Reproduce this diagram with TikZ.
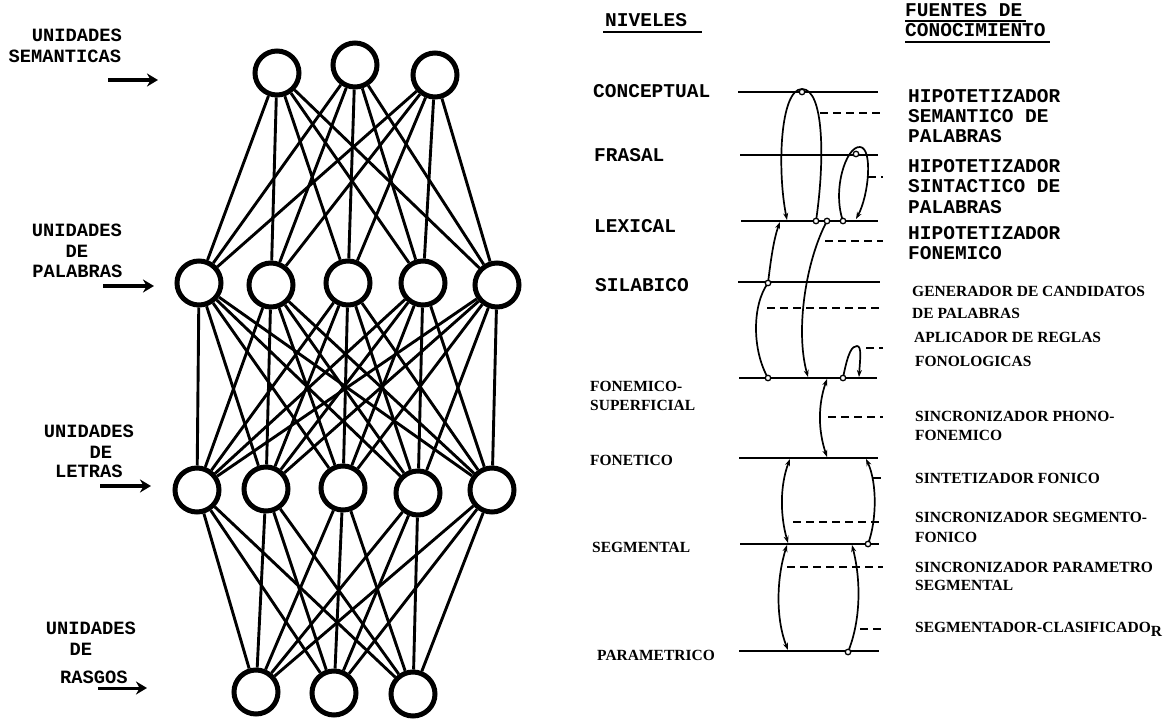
\documentclass[tikz,border=0pt]{standalone}
\usepackage{fontspec}
\setmainfont{Liberation Serif}
\newfontfamily\cour{Liberation Mono}
\usetikzlibrary{arrows.meta}
\begin{document}
\begin{tikzpicture}[x=1pt,y=-1pt,
  unit/.style={circle,draw,line width=5pt,minimum size=44pt,inner sep=0pt,fill=white},
  link/.style={line width=2.9pt},
  inarrow/.style={line width=4pt,-{Stealth[length=11pt,width=13pt]}},
  lab/.style={font=\cour\bfseries\fontsize{18.75}{20}\selectfont,anchor=base,inner sep=0pt},
  tw/.style={font=\cour\bfseries\fontsize{19.5}{21}\selectfont,anchor=base west,inner sep=0pt},
  sf/.style={font=\bfseries\fontsize{15.5}{17}\selectfont,anchor=base west,inner sep=0pt},
  level/.style={line width=2.2pt},
  uline/.style={line width=2pt},
  src/.style={line width=1.6pt,dash pattern=on 8pt off 5pt},
  flow/.style={line width=1.7pt},
  tip/.style={-{Stealth[length=7pt,width=5pt]}},
  tips/.style={{Stealth[length=7pt,width=5pt]}-{Stealth[length=7pt,width=5pt]}},
  dot/.style={circle,draw,fill=white,line width=1.3pt,minimum size=5.5pt,inner sep=0pt}
]
\useasboundingbox (0,0) rectangle (1171,719);

% ---------------- network ----------------
\node[unit] (s1) at (277,73) {};
\node[unit] (s2) at (355,65) {};
\node[unit] (s3) at (435,75) {};
\node[unit] (w1) at (199,283) {};
\node[unit] (w2) at (271,285) {};
\node[unit] (w3) at (348,283) {};
\node[unit] (w4) at (423,283) {};
\node[unit] (w5) at (497,285) {};
\node[unit] (l1) at (197,490) {};
\node[unit] (l2) at (266,489) {};
\node[unit] (l3) at (343,488) {};
\node[unit] (l4) at (418,493) {};
\node[unit] (l5) at (492,490) {};
\node[unit] (f1) at (256,692) {};
\node[unit] (f2) at (334,693) {};
\node[unit] (f3) at (413,694) {};

\foreach \a in {1,2,3}{\foreach \b in {1,...,5}{\draw[link] (s\a) -- (w\b);}}
\foreach \a in {1,...,5}{\foreach \b in {1,...,5}{\draw[link] (w\a) -- (l\b);}}
\foreach \a in {1,...,5}{\foreach \b in {1,2,3}{\draw[link] (l\a) -- (f\b);}}

% left labels
\node[lab] (t1a) at (77,42) {UNIDADES};
\node[lab] (t1b) at (65,63) {SEMANTICAS};
\node[lab] (t2a) at (77,237) {UNIDADES};
\node[lab] (t2b) at (77,258) {DE};
\node[lab] (t2c) at (77.5,278) {PALABRAS};
\node[lab] (t3a) at (89,438) {UNIDADES};
\node[lab] (t3b) at (101,458) {DE};
\node[lab] (t3c) at (89,478) {LETRAS};
\node[lab] (t4a) at (91,634) {UNIDADES};
\node[lab] (t4b) at (81,655) {DE};
\node[lab] (t4c) at (94,683) {RASGOS};

\coordinate (a1s) at (108,80);  \coordinate (a1e) at (158,80);
\coordinate (a2s) at (103,286); \coordinate (a2e) at (154,286);
\coordinate (a3s) at (100,486); \coordinate (a3e) at (151,486);
\coordinate (a4s) at (98,688);  \coordinate (a4e) at (147,688);
\draw[inarrow] (a1s) -- (a1e);
\draw[inarrow] (a2s) -- (a2e);
\draw[inarrow] (a3s) -- (a3e);
\draw[inarrow,line width=3pt] (a4s) -- (a4e);

% ---------------- headers ----------------
\node[tw] (hn) at (605,27) {NIVELES};
\draw[uline] (603,32) -- (702,32);
\node[tw] (hf1) at (905,17) {FUENTES DE};
\draw[uline] (905,21) -- (1026,21);
\node[tw] (hf2) at (905,37) {CONOCIMIENTO};
\draw[uline] (905,42) -- (1050,42);

% ---------------- levels ----------------
\node[tw] (nC) at (593,98) {CONCEPTUAL};
\node[tw] (nF) at (594,162) {FRASAL};
\node[tw] (nL) at (594,233) {LEXICAL};
\node[tw] (nS) at (595,292) {SILABICO};
\node[sf] (nFo1) at (590,392) {FONEMICO-};
\node[sf] (nFo2) at (590,410) {SUPERFICIAL};
\node[sf] (nFe) at (590,465) {FONETICO};
\node[sf] (nSe) at (592,552) {SEGMENTAL};
\node[sf] (nP) at (597,660) {PARAMETRICO};

\draw[level] (738,92) -- (878,92);
\draw[level] (740,155) -- (878,155);
\draw[level] (741,221) -- (878,221);
\draw[level] (738,282) -- (880,282);
\draw[level] (739,378) -- (877,378);
\draw[level] (739,458) -- (878,458);
\draw[level] (740,544) -- (879,544);
\draw[level] (739,651) -- (879,651);

% knowledge source labels
\node[tw] (k1a) at (908,103) {HIPOTETIZADOR};
\node[tw] (k1b) at (908,123) {SEMANTICO DE};
\node[tw] (k1c) at (908,143) {PALABRAS};
\node[tw] (k2a) at (908,173) {HIPOTETIZADOR};
\node[tw] (k2b) at (908,193) {SINTACTICO DE};
\node[tw] (k2c) at (908,214) {PALABRAS};
\node[tw] (k3a) at (908,240) {HIPOTETIZADOR};
\node[tw] (k3b) at (908,260) {FONEMICO};
\node[sf] (k4a) at (912,297) {GENERADOR DE CANDIDATOS};
\node[sf] (k4b) at (912,319) {DE PALABRAS};
\node[sf] (k5a) at (914,343) {APLICADOR DE REGLAS};
\node[sf] (k5b) at (915,367) {FONOLOGICAS};
\node[sf] (k6a) at (915,422) {SINCRONIZADOR PHONO-};
\node[sf] (k6b) at (915,440) {FONEMICO};
\node[sf] (k7) at (915,483) {SINTETIZADOR FONICO};
\node[sf] (k8a) at (915,522) {SINCRONIZADOR SEGMENTO-};
\node[sf] (k8b) at (915,542) {FONICO};
\node[sf] (k9a) at (915,572) {SINCRONIZADOR PARAMETRO};
\node[sf] (k9b) at (915,590) {SEGMENTAL};
\node[sf] (k10) at (915,632) {SEGMENTADOR-CLASIFICADO\raisebox{-4pt}{R}};

% dashed source markers
\draw[src] (820,113) -- (883,113);
\draw[src] (868,177) -- (883,177);
\draw[src] (825,241) -- (883,241);
\draw[src] (767,308) -- (880,308);
\draw[src] (866,348) -- (883,348);
\draw[src] (828,417) -- (883,417);
\draw[src] (873,478) -- (883,478);
\draw[src] (793,522) -- (883,522);
\draw[src] (787,567) -- (883,567);
\draw[src] (860,629) -- (883,629);

% flows
\coordinate (A0) at (816,221); \coordinate (A1) at (787,220);
\draw[flow,tip] (A0) .. controls (825,160) and (824,89) .. (802,89)
                     .. controls (780,89) and (777,170) .. (A1);
\coordinate (B0) at (843,221); \coordinate (B1) at (856,219);
\draw[flow,tip] (B0) .. controls (832,190) and (846,146) .. (860,147)
                     .. controls (873,148) and (869,195) .. (B1);
\coordinate (C0) at (827,221); \coordinate (C1) at (808,377);
\draw[flow,tip] (C0) .. controls (806,260) and (795,330) .. (C1);
\coordinate (D0) at (768,378); \coordinate (D1) at (768,283); \coordinate (D2) at (780,222);
\draw[flow] (D0) .. controls (752,350) and (752,305) .. (D1);
\draw[flow,tip] (D1) .. controls (771,258) and (774,238) .. (D2);
\coordinate (E0) at (843,378); \coordinate (E1) at (859,377);
\draw[flow,tip] (E0) .. controls (848,352) and (852,346) .. (857,346)
                     .. controls (862,346) and (860,360) .. (E1);
\coordinate (F0) at (827,379); \coordinate (F1) at (827,457);
\draw[flow,tips] (F0) .. controls (818,405) and (818,430) .. (F1);
\coordinate (G0) at (790,459); \coordinate (G1) at (788,543);
\draw[flow,tips] (G0) .. controls (780,485) and (780,515) .. (G1);
\coordinate (H0) at (868,544); \coordinate (H1) at (866,459);
\draw[flow,tip] (H0) .. controls (877,520) and (877,482) .. (H1);
\coordinate (I0) at (787,545); \coordinate (I1) at (788,650);
\draw[flow,tips] (I0) .. controls (776,580) and (776,620) .. (I1);
\coordinate (J0) at (848,652); \coordinate (J1) at (852,545);
\draw[flow,tip] (J0) .. controls (861,620) and (861,580) .. (J1);

% small circles
\node[dot] (o1) at (802,92) {};
\node[dot] (o2) at (A0) {};
\node[dot] (o3) at (B0) {};
\node[dot] (o4) at (856,154) {};
\node[dot] (o5) at (C0) {};
\node[dot] (o6) at (D1) {};
\node[dot] (o7) at (D0) {};
\node[dot] (o8) at (E0) {};
\node[dot] (o9) at (H0) {};
\node[dot] (o10) at (J0) {};
\end{tikzpicture}
\end{document}
